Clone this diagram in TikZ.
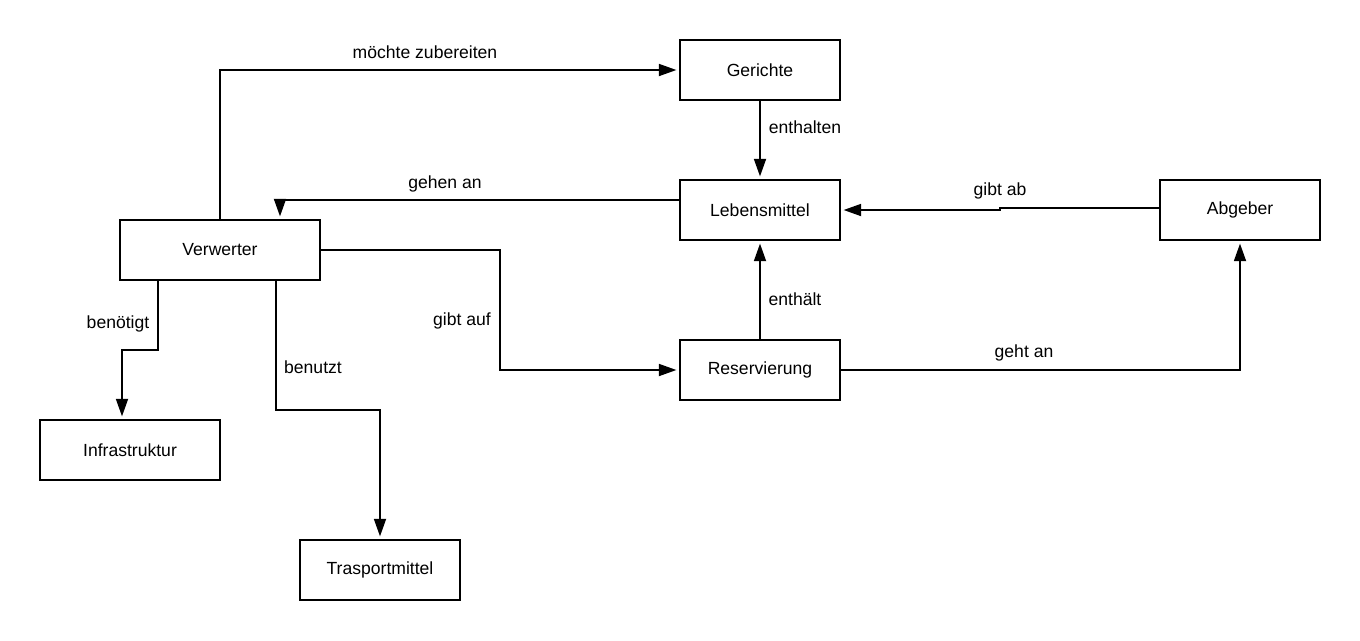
\documentclass[tikz,border=0pt]{standalone}
\usepackage{fontspec}
\setmainfont{Liberation Sans}
\usetikzlibrary{arrows.meta, positioning, calc}

\tikzset{
  entity/.style={draw, line width=1.1pt, minimum width=3.2cm, minimum height=1.2cm, inner sep=0pt, font=\fontsize{10pt}{12pt}\selectfont},
  rel/.style={line width=1.1pt, -{Triangle[length=10pt, width=6.8pt]}, shorten >=1.5pt},
  lbl/.style={inner sep=0pt, font=\fontsize{10pt}{12pt}\selectfont}
}

\begin{document}
\begin{tikzpicture}[x=0.02cm, y=-0.02cm]
  \useasboundingbox (0,0) rectangle (1360,640);

  % entities
  \node[entity] (ger) at (760,70) {Gerichte};
  \node[entity] (leb) at (760,210) {Lebensmittel};
  \node[entity] (abg) at (1240,210) {Abgeber};
  \node[entity, minimum width=4cm] (verw) at (220,250) {Verwerter};
  \node[entity] (res) at (760,370) {Reservierung};
  \node[entity, minimum width=3.6cm] (infra) at (130,450) {Infrastruktur};
  \node[entity] (trans) at (380,570) {Trasportmittel};

  % relations
  \draw[rel] (verw.north) |- (ger.west);
  \draw[rel] (ger) -- (leb);
  \draw[rel] ([yshift=0.2cm]leb.west) -| ([xshift=1.2cm]verw.north);
  \draw[rel] ([yshift=0.04cm]abg.west) -| (1000,210) -- (leb.east);
  \draw[rel] (verw.east) -- (500,250) |- (res.west);
  \draw[rel] (res) -- (leb);
  \draw[rel] (res.east) -| (abg.south);
  \draw[rel] ([xshift=-1.24cm]verw.south) -- (158,350) -| ([xshift=-0.16cm]infra.north);
  \draw[rel] ([xshift=1.12cm]verw.south) -- (276,410) -| (trans.north);

  % labels
  \node[lbl] (l-zub) at (425,52) {möchte zubereiten};
  \node[lbl] (l-enth) at (805,127) {enthalten};
  \node[lbl] (l-gehen) at (445,184) {gehen an};
  \node[lbl] (l-ab) at (1000,191) {gibt ab};
  \node[lbl] (l-auf) at (462,321) {gibt auf};
  \node[lbl] (l-hat) at (795,299) {enthält};
  \node[lbl] (l-geht) at (1024,353) {geht an};
  \node[lbl] (l-ben) at (118,324) {benötigt};
  \node[lbl] (l-nutzt) at (313,367) {benutzt};
\end{tikzpicture}
\end{document}
